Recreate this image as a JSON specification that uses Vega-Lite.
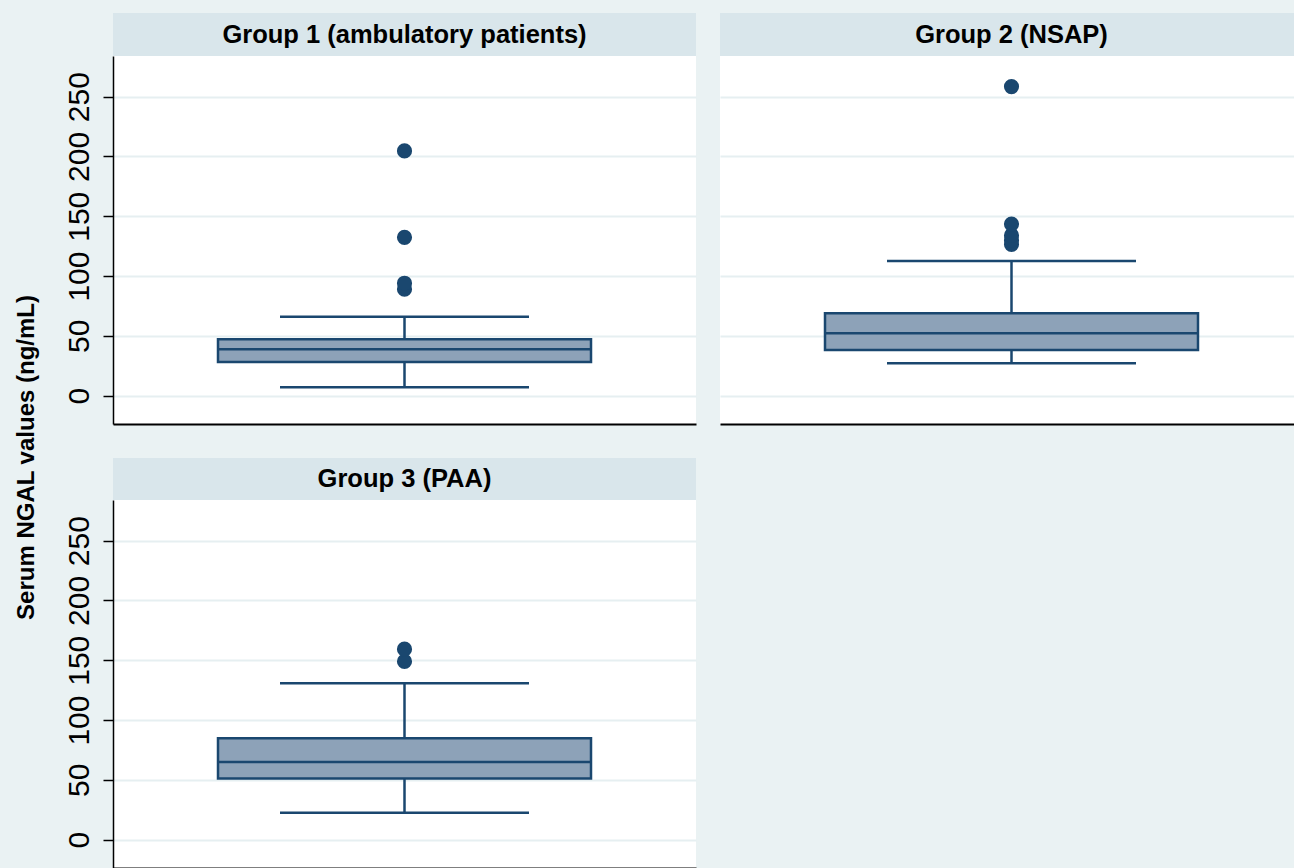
{
  "$schema": "https://vega.github.io/schema/vega-lite/v6.json",
  "background": "#EAF2F3",
  "padding": {"left": 14, "top": 13, "right": 0, "bottom": 0},
  "title": {"text": "Serum NGAL values (ng/mL)", "orient": "left", "anchor": "middle", "fontSize": 24, "fontWeight": "bold", "font": "Liberation Sans", "color": "#000000", "offset": 25, "dx": -17},
  "datasets": {
    "stats": [
      {"group": "Group 1", "lower": 7, "q1": 28.2, "median": 38.8, "q3": 47.2, "upper": 66},
      {"group": "Group 2", "lower": 27, "q1": 38.2, "median": 52.2, "q3": 68.9, "upper": 112.6},
      {"group": "Group 3", "lower": 22.6, "q1": 51.1, "median": 65, "q3": 84.7, "upper": 130.8}
    ],
    "outliers": [
      {"group": "Group 1", "value": 89},
      {"group": "Group 1", "value": 94},
      {"group": "Group 1", "value": 132.4},
      {"group": "Group 1", "value": 204.6},
      {"group": "Group 2", "value": 126.5},
      {"group": "Group 2", "value": 130},
      {"group": "Group 2", "value": 134},
      {"group": "Group 2", "value": 143.5},
      {"group": "Group 2", "value": 258.4},
      {"group": "Group 3", "value": 149},
      {"group": "Group 3", "value": 159.3}
    ],
    "headers": [
      {"group": "Group 1", "label": "Group 1 (ambulatory patients)"},
      {"group": "Group 2", "label": "Group 2 (NSAP)"},
      {"group": "Group 3", "label": "Group 3 (PAA)"}
    ]
  },
  "config": {
    "view": {"stroke": null},
    "axisY": {"grid": true, "gridColor": "#E6EFF1", "gridWidth": 2, "labelAngle": -90, "labelAlign": "center", "labelBaseline": "alphabetic", "labelFont": "Liberation Sans", "labelFontSize": 30, "labelColor": "#000000", "labelPadding": 15, "tickSize": 10, "tickWidth": 1.5, "tickColor": "#000000", "domainColor": "#000000", "domainWidth": 1.5, "minExtent": 0},
    "axisX": {"labels": false, "ticks": false, "grid": false, "domainColor": "#000000", "domainWidth": 2}
  },
  "concat": [
    {
      "vconcat": [
        {
          "width": 583, "height": 43,
          "view": {"fill": "#D9E6EB", "stroke": null},
          "data": {"name": "headers"},
          "transform": [{"filter": "datum.group === 'Group 1'"}],
          "mark": {"type": "text", "font": "Liberation Sans", "fontSize": 25.5, "fontWeight": "bold", "color": "#000000", "baseline": "middle", "align": "center"},
          "encoding": {"text": {"field": "label", "type": "nominal"}}
        },
        {
          "width": 583, "height": 368,
          "view": {"fill": "#FFFFFF", "stroke": null},
          "layer": [
            {
              "data": {"name": "stats"},
              "transform": [{"filter": "datum.group === 'Group 1'"}],
              "layer": [
                {"mark": {"type": "rule", "color": "#1A476F", "strokeWidth": 2.5}, "encoding": {"x": {"field": "group", "type": "nominal", "title": null, "scale": {"paddingInner": 0, "paddingOuter": 0}}, "y": {"field": "lower", "type": "quantitative", "title": null, "scale": {"domain": [-23.7, 284], "nice": false, "zero": false}, "axis": {"values": [0, 50, 100, 150, 200, 250]}}, "y2": {"field": "q1"}}},
                {"mark": {"type": "rule", "color": "#1A476F", "strokeWidth": 2.5}, "encoding": {"x": {"field": "group", "type": "nominal", "title": null}, "y": {"field": "q3", "type": "quantitative", "title": null}, "y2": {"field": "upper"}}},
                {"mark": {"type": "tick", "color": "#1A476F", "size": 249, "thickness": 2.5, "opacity": 1}, "encoding": {"x": {"field": "group", "type": "nominal", "title": null}, "y": {"field": "lower", "type": "quantitative", "title": null}}},
                {"mark": {"type": "tick", "color": "#1A476F", "size": 249, "thickness": 2.5, "opacity": 1}, "encoding": {"x": {"field": "group", "type": "nominal", "title": null}, "y": {"field": "upper", "type": "quantitative", "title": null}}},
                {"mark": {"type": "bar", "size": 373, "fill": "#8DA2B8", "stroke": "#1A476F", "strokeWidth": 2.5, "opacity": 1}, "encoding": {"x": {"field": "group", "type": "nominal", "title": null}, "y": {"field": "q1", "type": "quantitative", "title": null}, "y2": {"field": "q3"}}},
                {"mark": {"type": "tick", "color": "#1A476F", "size": 373, "thickness": 2.5, "opacity": 1}, "encoding": {"x": {"field": "group", "type": "nominal", "title": null}, "y": {"field": "median", "type": "quantitative", "title": null}}}
              ]
            },
            {
              "data": {"name": "outliers"},
              "transform": [{"filter": "datum.group === 'Group 1'"}],
              "mark": {"type": "point", "shape": "circle", "filled": true, "color": "#1A476F", "size": 230, "opacity": 1},
              "encoding": {"x": {"field": "group", "type": "nominal", "title": null}, "y": {"field": "value", "type": "quantitative", "title": null}}
            }
          ]
        }
      ],
      "spacing": 0
    },
    {
      "vconcat": [
        {
          "width": 583, "height": 43,
          "view": {"fill": "#D9E6EB", "stroke": null},
          "data": {"name": "headers"},
          "transform": [{"filter": "datum.group === 'Group 2'"}],
          "mark": {"type": "text", "font": "Liberation Sans", "fontSize": 25.5, "fontWeight": "bold", "color": "#000000", "baseline": "middle", "align": "center"},
          "encoding": {"text": {"field": "label", "type": "nominal"}}
        },
        {
          "width": 583, "height": 368,
          "view": {"fill": "#FFFFFF", "stroke": null},
          "layer": [
            {
              "data": {"name": "stats"},
              "transform": [{"filter": "datum.group === 'Group 2'"}],
              "layer": [
                {"mark": {"type": "rule", "color": "#1A476F", "strokeWidth": 2.5}, "encoding": {"x": {"field": "group", "type": "nominal", "title": null, "scale": {"paddingInner": 0, "paddingOuter": 0}}, "y": {"field": "lower", "type": "quantitative", "title": null, "scale": {"domain": [-23.7, 284], "nice": false, "zero": false}, "axis": {"values": [0, 50, 100, 150, 200, 250], "labels": false, "ticks": false, "domain": false, "grid": true, "minExtent": 0}}, "y2": {"field": "q1"}}},
                {"mark": {"type": "rule", "color": "#1A476F", "strokeWidth": 2.5}, "encoding": {"x": {"field": "group", "type": "nominal", "title": null}, "y": {"field": "q3", "type": "quantitative", "title": null}, "y2": {"field": "upper"}}},
                {"mark": {"type": "tick", "color": "#1A476F", "size": 249, "thickness": 2.5, "opacity": 1}, "encoding": {"x": {"field": "group", "type": "nominal", "title": null}, "y": {"field": "lower", "type": "quantitative", "title": null}}},
                {"mark": {"type": "tick", "color": "#1A476F", "size": 249, "thickness": 2.5, "opacity": 1}, "encoding": {"x": {"field": "group", "type": "nominal", "title": null}, "y": {"field": "upper", "type": "quantitative", "title": null}}},
                {"mark": {"type": "bar", "size": 373, "fill": "#8DA2B8", "stroke": "#1A476F", "strokeWidth": 2.5, "opacity": 1}, "encoding": {"x": {"field": "group", "type": "nominal", "title": null}, "y": {"field": "q1", "type": "quantitative", "title": null}, "y2": {"field": "q3"}}},
                {"mark": {"type": "tick", "color": "#1A476F", "size": 373, "thickness": 2.5, "opacity": 1}, "encoding": {"x": {"field": "group", "type": "nominal", "title": null}, "y": {"field": "median", "type": "quantitative", "title": null}}}
              ]
            },
            {
              "data": {"name": "outliers"},
              "transform": [{"filter": "datum.group === 'Group 2'"}],
              "mark": {"type": "point", "shape": "circle", "filled": true, "color": "#1A476F", "size": 230, "opacity": 1},
              "encoding": {"x": {"field": "group", "type": "nominal", "title": null}, "y": {"field": "value", "type": "quantitative", "title": null}}
            }
          ]
        }
      ],
      "spacing": 0
    },
    {
      "vconcat": [
        {
          "width": 583, "height": 42,
          "view": {"fill": "#D9E6EB", "stroke": null},
          "data": {"name": "headers"},
          "transform": [{"filter": "datum.group === 'Group 3'"}],
          "mark": {"type": "text", "font": "Liberation Sans", "fontSize": 25.5, "fontWeight": "bold", "color": "#000000", "baseline": "middle", "align": "center"},
          "encoding": {"text": {"field": "label", "type": "nominal"}}
        },
        {
          "width": 583, "height": 368,
          "view": {"fill": "#FFFFFF", "stroke": null},
          "layer": [
            {
              "data": {"name": "stats"},
              "transform": [{"filter": "datum.group === 'Group 3'"}],
              "layer": [
                {"mark": {"type": "rule", "color": "#1A476F", "strokeWidth": 2.5}, "encoding": {"x": {"field": "group", "type": "nominal", "title": null, "scale": {"paddingInner": 0, "paddingOuter": 0}}, "y": {"field": "lower", "type": "quantitative", "title": null, "scale": {"domain": [-23.7, 284], "nice": false, "zero": false}, "axis": {"values": [0, 50, 100, 150, 200, 250]}}, "y2": {"field": "q1"}}},
                {"mark": {"type": "rule", "color": "#1A476F", "strokeWidth": 2.5}, "encoding": {"x": {"field": "group", "type": "nominal", "title": null}, "y": {"field": "q3", "type": "quantitative", "title": null}, "y2": {"field": "upper"}}},
                {"mark": {"type": "tick", "color": "#1A476F", "size": 249, "thickness": 2.5, "opacity": 1}, "encoding": {"x": {"field": "group", "type": "nominal", "title": null}, "y": {"field": "lower", "type": "quantitative", "title": null}}},
                {"mark": {"type": "tick", "color": "#1A476F", "size": 249, "thickness": 2.5, "opacity": 1}, "encoding": {"x": {"field": "group", "type": "nominal", "title": null}, "y": {"field": "upper", "type": "quantitative", "title": null}}},
                {"mark": {"type": "bar", "size": 373, "fill": "#8DA2B8", "stroke": "#1A476F", "strokeWidth": 2.5, "opacity": 1}, "encoding": {"x": {"field": "group", "type": "nominal", "title": null}, "y": {"field": "q1", "type": "quantitative", "title": null}, "y2": {"field": "q3"}}},
                {"mark": {"type": "tick", "color": "#1A476F", "size": 373, "thickness": 2.5, "opacity": 1}, "encoding": {"x": {"field": "group", "type": "nominal", "title": null}, "y": {"field": "median", "type": "quantitative", "title": null}}}
              ]
            },
            {
              "data": {"name": "outliers"},
              "transform": [{"filter": "datum.group === 'Group 3'"}],
              "mark": {"type": "point", "shape": "circle", "filled": true, "color": "#1A476F", "size": 230, "opacity": 1},
              "encoding": {"x": {"field": "group", "type": "nominal", "title": null}, "y": {"field": "value", "type": "quantitative", "title": null}}
            }
          ]
        }
      ],
      "spacing": 0
    }
  ],
  "columns": 2,
  "align": "each",
  "spacing": {"row": 34, "column": 24}
}
